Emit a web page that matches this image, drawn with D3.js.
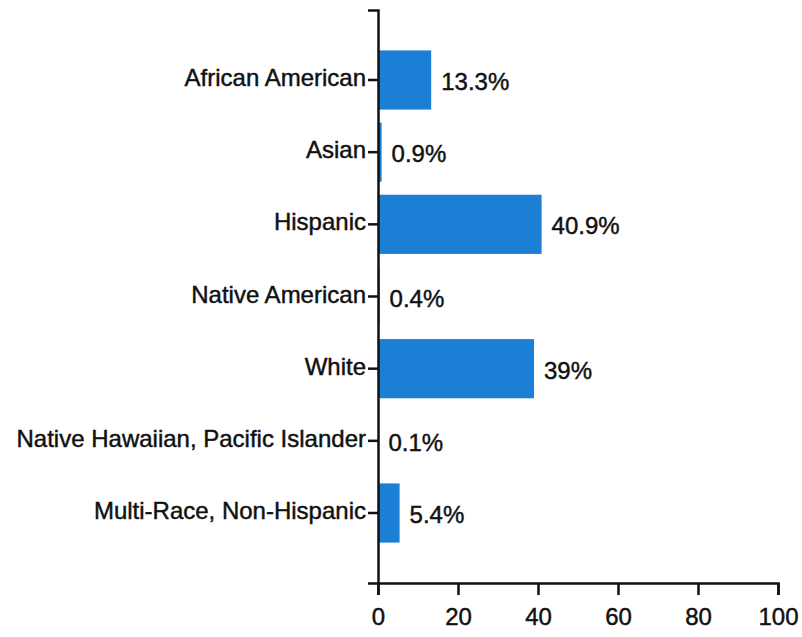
<!DOCTYPE html>
<html>
<head>
<meta charset="utf-8">
<script src="https://cdn.jsdelivr.net/npm/d3@7"></script>
<style>
  html, body { margin: 0; padding: 0; background: #fff; }
  svg { display: block; }
  .lbl { font-family: "Liberation Sans", Arial, sans-serif; font-size: 24px; fill: #111; stroke: #111; stroke-width: 0.45px; }
</style>
</head>
<body>
<svg id="chart" width="802" height="637"></svg>
<script>
const categories = ["African American", "Asian", "Hispanic", "Native American", "White", "Native Hawaiian, Pacific Islander", "Multi-Race, Non-Hispanic"];
const values = [13.3, 0.9, 40.9, 0.4, 39, 0.1, 5.4];
const valueLabels = ["13.3%", "0.9%", "40.9%", "0.4%", "39%", "0.1%", "5.4%"];
const xTicks = [0, 20, 40, 60, 80, 100];

const svg = d3.select("#chart");
const mLeft = 378, mRight = 778, mTop = 10, mBottom = 583;

const x = d3.scaleLinear().domain([0, 100]).range([mLeft, mRight]);
const y = d3.scaleBand().domain(categories).range([mTop, mBottom]).paddingInner(0.18).paddingOuter(0.56);

const barColor = "#1b7fd5";

svg.append("g").selectAll("rect").data(categories).join("rect")
  .attr("x", x(0))
  .attr("y", d => y(d))
  .attr("width", (d, i) => x(values[i]) - x(0))
  .attr("height", y.bandwidth())
  .attr("fill", barColor);

svg.append("g").selectAll("text").data(categories).join("text")
  .attr("class", "lbl")
  .attr("x", (d, i) => x(values[i]) + 10)
  .attr("y", d => y(d) + y.bandwidth() / 2)
  .attr("dy", "0.42em")
  .text((d, i) => valueLabels[i]);

const yAxis = svg.append("g")
  .attr("transform", `translate(${mLeft},0)`)
  .call(d3.axisLeft(y).tickSize(10).tickSizeOuter(10).tickPadding(2));
yAxis.attr("font-size", null).attr("font-family", null);
yAxis.selectAll("text").attr("class", "lbl").attr("fill", null).attr("dy", "0.25em");

const xAxis = svg.append("g")
  .attr("transform", `translate(0,${mBottom})`)
  .call(d3.axisBottom(x).tickValues(xTicks).tickSize(12).tickSizeOuter(12).tickPadding(13));
xAxis.attr("font-size", null).attr("font-family", null);
xAxis.selectAll("text").attr("class", "lbl").attr("fill", null);

svg.selectAll(".domain, .tick line").attr("stroke", "#111").attr("stroke-width", 2.5);
</script>
</body>
</html>
